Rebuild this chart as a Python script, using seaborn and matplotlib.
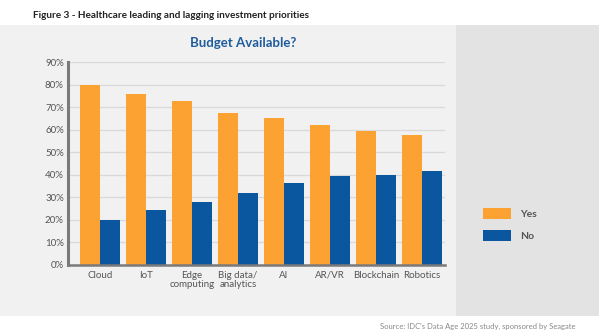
import matplotlib
matplotlib.use("Agg")
import matplotlib.pyplot as plt
from matplotlib.patches import Rectangle
import seaborn as sns
import pandas as pd

categories = ["Cloud", "IoT", "Edge\ncomputing", "Big data/\nanalytics", "AI", "AR/VR", "Blockchain", "Robotics"]
yes_values = [80.0, 76.0, 72.5, 67.5, 65.2, 62.2, 59.2, 57.6]
no_values = [20.0, 24.5, 27.8, 32.0, 36.3, 39.4, 40.0, 41.6]
series = ["Yes", "No"]
colors = ["#FCA232", "#0B579F"]
y_ticks = [0, 10, 20, 30, 40, 50, 60, 70, 80, 90]

df = pd.DataFrame({
    "category": categories * 2,
    "answer": ["Yes"] * len(categories) + ["No"] * len(categories),
    "value": yes_values + no_values,
})

sns.set_theme(style="white")
plt.rcParams["font.family"] = ["Lato", "DejaVu Sans"]

W, H = 599, 336
fig = plt.figure(figsize=(W / 100, H / 100), dpi=100)
fig.patch.set_facecolor("white")

# background panels
fig.patches.append(Rectangle((0, 1 - 316 / H), 456 / W, (316 - 25) / H,
                             transform=fig.transFigure, facecolor="#F1F1F1", edgecolor="none", zorder=-10))
fig.patches.append(Rectangle((456 / W, 1 - 316 / H), 1 - 456 / W, (316 - 25) / H,
                             transform=fig.transFigure, facecolor="#E3E3E3", edgecolor="none", zorder=-10))

ax = fig.add_axes([68 / W, 1 - 265 / H, (445 - 68) / W, (265 - 62) / H])
ax.set_facecolor("none")
ax.set_zorder(5)

sns.barplot(data=df, x="category", y="value", hue="answer", hue_order=series,
            palette=colors, width=0.87, gap=0, saturation=1, ax=ax, legend=True,
            edgecolor="none", linewidth=0)

ax.set_xlim(-0.7, 7.5)
ax.set_ylim(0, 90)
ax.set_yticks(y_ticks)
ax.set_yticklabels([f"{v}%" for v in y_ticks])
ax.yaxis.grid(True, color="#D9D9D9", linewidth=0.9)
ax.set_axisbelow(True)
ax.set_xlabel("")
ax.set_ylabel("")
for s in ["top", "right"]:
    ax.spines[s].set_visible(False)
ax.spines["left"].set_color("#7A7A7A")
ax.spines["left"].set_linewidth(2.2)
ax.spines["bottom"].set_color("#7A7A7A")
ax.spines["bottom"].set_linewidth(1.8)
ax.tick_params(axis="both", length=0, labelsize=7, labelcolor="#555555", pad=3)
ax.tick_params(axis="x", pad=4)
for lbl in ax.get_xticklabels():
    lbl.set_linespacing(1.0)

handles, labels = ax.get_legend_handles_labels()
ax.get_legend().remove()
leg = fig.legend(handles, labels, loc="upper left", bbox_to_anchor=(474 / W, 1 - 199 / H),
                 frameon=False, fontsize=7.5, handlelength=2.7, handleheight=1.25,
                 handletextpad=0.8, labelspacing=1.0)
for t in leg.get_texts():
    t.set_color("#555555")
    t.set_fontweight("bold")

fig.text(33 / W, 1 - 15 / H, "Figure 3 - Healthcare leading and lagging investment priorities",
         fontsize=7.2, fontweight="bold", color="#222222", va="center", ha="left")
fig.text(243 / W, 1 - 43 / H, "Budget Available?", fontsize=9.5, fontweight="bold",
         color="#1F5C9C", va="center", ha="center")
fig.text(575 / W, 1 - 326 / H, "Source: IDC's Data Age 2025 study, sponsored by Seagate",
         fontsize=5.5, color="#888888", va="center", ha="right")

fig.savefig("out.png", dpi=100)
